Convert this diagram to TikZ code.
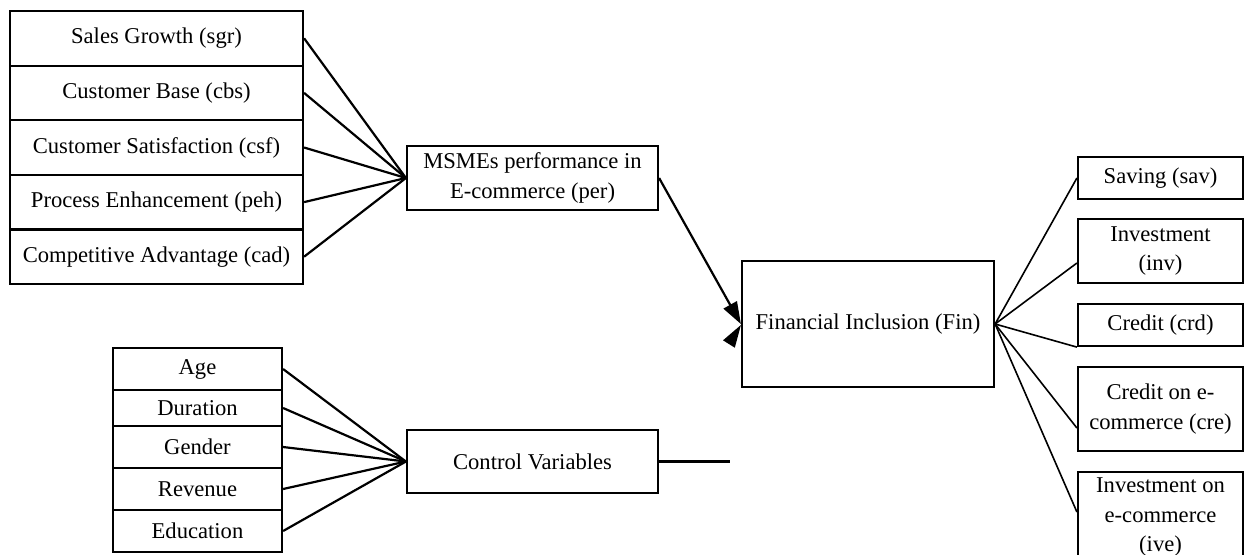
\documentclass[tikz,border=0pt]{standalone}
\usepackage{fontspec}
\setmainfont{Liberation Serif}
\usetikzlibrary{arrows.meta,calc}
\begin{document}
\begin{tikzpicture}[x=0.5pt,y=-0.5pt,
  bx/.style 2 args={draw, line width=1.1pt, inner sep=0pt, align=center,
    minimum width=#1*0.5pt, minimum height=#2*0.5pt,
    font=\fontsize{11.3}{14.6}\selectfont},
  lk/.style={line width=1.1pt},
  rk/.style={line width=0.8pt},
  arr/.style={line width=1.1pt,-{Triangle[length=11pt,width=7.5pt]}}]
\path[use as bounding box] (0,0) rectangle (1245,554);
\clip (0,0) rectangle (1245,554);

% top-left stack
\node[bx={293}{54.6}] (sgr) at (156.5,38.3) {Sales Growth (sgr)};
\node[bx={293}{54.6}] (cbs) at (156.5,92.9) {Customer Base (cbs)};
\node[bx={293}{54.6}] (csf) at (156.5,147.5) {Customer Satisfaction (csf)};
\node[bx={293}{54.6}] (peh) at (156.5,202.1) {Process Enhancement (peh)};
\node[bx={293}{54.6}] (cad) at (156.5,256.7) {Competitive Advantage (cad)};

\node[bx={251}{64}] (per) at (532.5,178) {MSMEs performance in\\E-commerce (per)};

% bottom-left stack
\node[bx={169}{42}] (age) at (197.5,369) {Age};
\node[bx={169}{36}] (dur) at (197.5,408) {Duration};
\node[bx={169}{42}] (gen) at (197.5,447) {Gender};
\node[bx={169}{42}] (rev) at (197.5,489) {Revenue};
\node[bx={169}{42}] (edu) at (197.5,531) {Education};

\node[bx={251}{63}] (cv) at (532.5,461.5) {Control Variables};
\coordinate (cvend) at (730,461.5);

\node[bx={252}{126}] (fin) at (868,324) {Financial Inclusion (Fin)};

% right boxes
\node[bx={165}{42}] (sav) at (1160.5,178) {Saving (sav)};
\node[bx={165}{64}] (inv) at (1160.5,251) {Investment\\(inv)};
\node[bx={165}{42}] (crd) at (1160.5,325) {Credit (crd)};
\node[bx={165}{84}] (cre) at (1160.5,409) {Credit on e-\\commerce (cre)};
\node[bx={165}{90}] (ive) at (1160.5,517) {Investment on\\e-commerce\\(ive)};

% connectors
\foreach \n in {sgr,cbs,csf,peh,cad} \draw[lk] (\n.east) -- (per.west);
\foreach \n in {age,dur,gen,rev,edu} \draw[lk] (\n.east) -- (cv.west);
\draw[lk] (cv.east) -- (cvend);
\draw[arr] (per.east) -- (fin.west);
\fill ($(fin.west)+(0,1)$) -- ++(-17.9,15.3) -- ++(11.8,7.4) -- cycle;

\draw[rk] (fin.east) -- (sav.west);
\draw[rk] (fin.east) -- ($(inv.west)+(0,12)$);
\draw[rk] (fin.east) -- (crd.south west);
\draw[rk] (fin.east) -- ($(cre.west)+(0,19)$);
\draw[rk] (fin.east) -- ($(ive.west)+(0,-5)$);
\end{tikzpicture}
\end{document}
